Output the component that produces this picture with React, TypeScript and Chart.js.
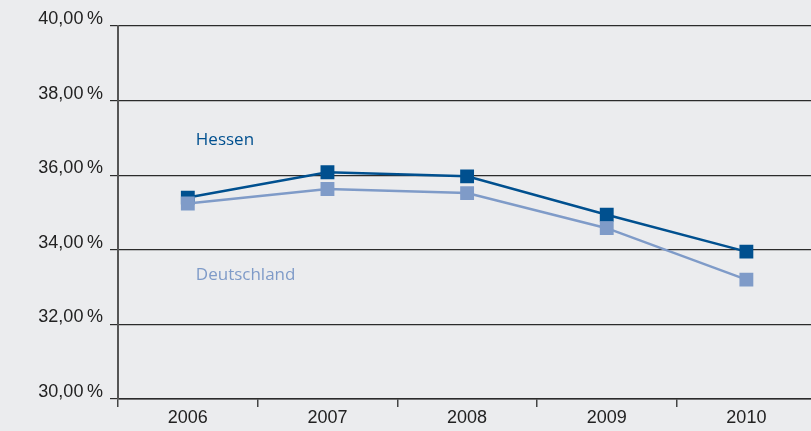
import React, { useEffect, useRef } from "react";
import { Chart, registerables } from "chart.js";

Chart.register(...registerables);

const categories = ["2006", "2007", "2008", "2009", "2010"];
const hessen = [35.4, 36.08, 35.97, 34.94, 33.95];
const deutschland = [35.24, 35.63, 35.52, 34.58, 33.2];
const yTickValues = [30, 32, 34, 36, 38, 40];
const yTickLabels = ["30,00\u2009%", "32,00\u2009%", "34,00\u2009%", "36,00\u2009%", "38,00\u2009%", "40,00\u2009%"];
const seriesLabels = ["Hessen", "Deutschland"];
const labelAnchors = [
  { index: 0, value: 36.93 },
  { index: 0, value: 33.31 },
];

const HESSEN_COLOR = "#00508f";
const DE_COLOR = "#7f9bc8";
const BG = "#ebecee";

const seriesLabelPlugin = {
  id: "seriesLabels",
  afterDatasetsDraw(chart: any) {
    const { ctx, scales } = chart;
    const colors = [HESSEN_COLOR, DE_COLOR];
    ctx.save();
    ctx.font = "17px 'Open Sans', sans-serif";
    ctx.textAlign = "left";
    ctx.textBaseline = "middle";
    labelAnchors.forEach((a, i) => {
      const x = scales.x.getPixelForValue(a.index) + 8;
      const y = scales.y.getPixelForValue(a.value);
      ctx.fillStyle = colors[i];
      ctx.fillText(seriesLabels[i], x, y);
    });
    ctx.restore();
  },
};

export default function App() {
  const ref = useRef<HTMLCanvasElement>(null);
  useEffect(() => {
    document.body.style.margin = "0";
    document.body.style.background = BG;
    const chart = new Chart(ref.current!, {
      type: "line",
      data: {
        labels: categories,
        datasets: [
          {
            label: seriesLabels[0],
            data: hessen,
            borderColor: HESSEN_COLOR,
            backgroundColor: HESSEN_COLOR,
            borderWidth: 2.5,
            pointStyle: "rect",
            pointRadius: 9.8,
            pointBorderWidth: 0,
            order: 1,
          },
          {
            label: seriesLabels[1],
            data: deutschland,
            borderColor: DE_COLOR,
            backgroundColor: DE_COLOR,
            borderWidth: 2.5,
            pointStyle: "rect",
            pointRadius: 9.8,
            pointBorderWidth: 0,
            order: 0,
          },
        ],
      },
      options: {
        responsive: false,
        animation: false,
        layout: { padding: { top: 26, right: 0, bottom: 0, left: 0 } },
        plugins: { legend: { display: false }, tooltip: { enabled: false } },
        scales: {
          x: {
            offset: true,
            grid: {
              offset: true,
              drawOnChartArea: false,
              drawTicks: true,
              tickLength: 8,
              color: "#444",
              lineWidth: 1.5,
            },
            border: { display: true, color: "#2b2b2b", width: 1.5 },
            ticks: {
              color: "#222",
              font: { family: "'Liberation Sans', Arial, sans-serif", size: 18 },
              padding: 0,
            },
            afterFit(scale: any) {
              scale.height = 32;
            },
          },
          y: {
            min: 30,
            max: 40,
            afterBuildTicks(scale: any) {
              scale.ticks = yTickValues.map((v) => ({ value: v }));
            },
            grid: {
              color: "#2b2b2b",
              lineWidth: 1.2,
              tickLength: 8,
              drawTicks: true,
            },
            border: { display: true, color: "#555", width: 2 },
            ticks: {
              color: "#222",
              font: { family: "'Liberation Sans', Arial, sans-serif", size: 18 },
              padding: 7,
              labelOffset: -7,
              callback: (v: any) => {
                const i = yTickValues.indexOf(Number(v));
                return i >= 0 ? yTickLabels[i] : "";
              },
            },
            afterFit(scale: any) {
              scale.width = 118;
            },
          },
        },
      },
      plugins: [seriesLabelPlugin],
    });
    return () => chart.destroy();
  }, []);
  return (
    <div
      style={{
        position: "fixed",
        left: 0,
        top: 0,
        width: 811,
        height: 431,
        overflow: "hidden",
        background: BG,
      }}
    >
      <canvas ref={ref} width={826} height={431} style={{ display: "block" }} />
    </div>
  );
}
